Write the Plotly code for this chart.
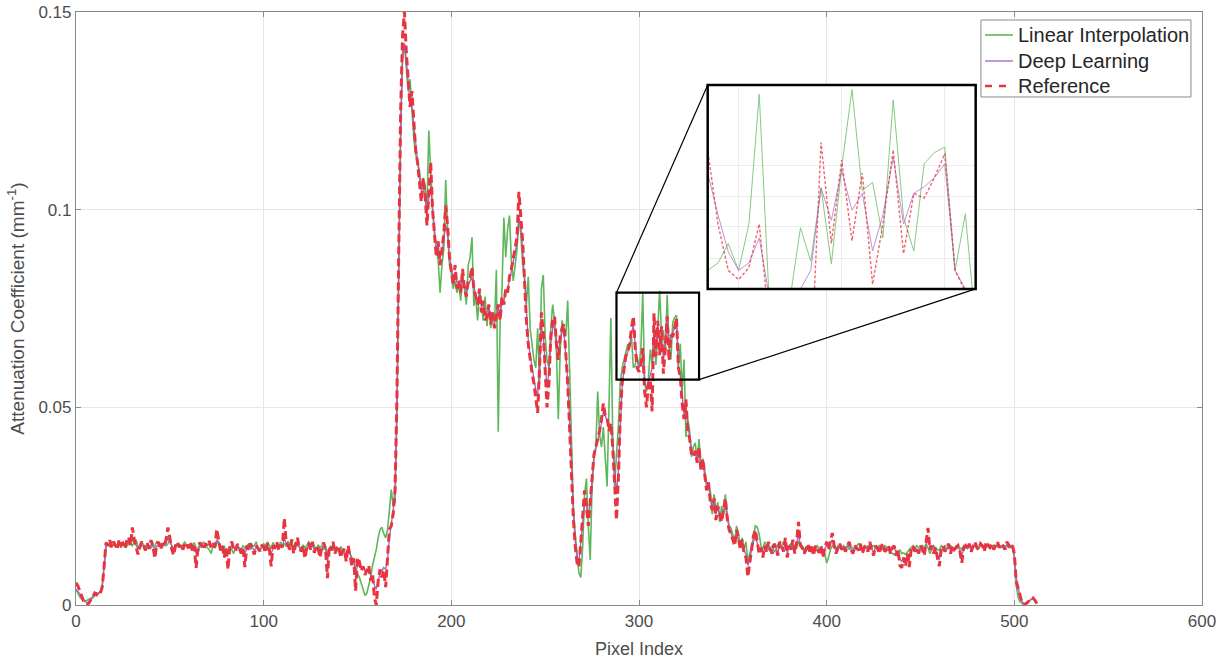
import numpy as np
import plotly.graph_objects as go

# values in units of 1e-4 mm^-1, one per pixel index (0..512)
VALUE_UNIT = 1e-4

reference_vals = [
    56, 48, 36, 22, 10, 3, 0, 6, 14, 22,
    30, 26, 34, 30, 46, 98, 158, 150, 164, 146,
    160, 150, 140, 166, 152, 156, 142, 162, 172, 150,
    196, 168, 150, 128, 146, 160, 150, 138, 156, 142,
    164, 150, 118, 152, 160, 140, 156, 148, 166, 196,
    170, 142, 126, 150, 160, 146, 154, 140, 158, 150,
    144, 160, 136, 150, 94, 146, 158, 150, 140, 156,
    150, 162, 144, 152, 146, 192, 160, 138, 150, 120,
    146, 90, 152, 160, 142, 136, 154, 148, 130, 144,
    96, 150, 138, 156, 142, 128, 150, 144, 136, 150,
    148, 132, 156, 142, 98, 150, 146, 160, 138, 152,
    146, 220, 158, 150, 140, 166, 130, 152, 170, 144,
    136, 150, 118, 146, 156, 140, 160, 132, 150, 144,
    120, 146, 158, 140, 68, 150, 138, 160, 130, 144,
    150, 120, 136, 142, 110, 150, 128, 100, 118, 36,
    120, 110, 86, 98, 76, 90, 100, 62, 80, 20,
    0, 60, 90, 70, 88, 45, 110, 192, 200, 230,
    290, 520, 900, 1250, 1440, 1500, 1400, 1330, 1260, 1300,
    1220, 1150, 1120, 1060, 1020, 1080, 1040, 960, 1050, 1120,
    1000, 940, 880, 920, 860, 900, 940, 1010, 960, 880,
    840, 810, 860, 800, 820, 790, 850, 800, 780, 820,
    830, 855, 800, 780, 760, 800, 740, 770, 720, 730,
    760, 710, 740, 700, 730, 760, 720, 780, 760, 800,
    790, 830, 850, 880, 900, 930, 1045, 990, 920, 820,
    720, 660, 620, 587, 560, 520, 486, 600, 740, 690,
    600, 500, 560, 680, 720, 730, 660, 620, 680, 700,
    710, 645, 560, 450, 330, 220, 150, 106, 96, 160,
    210, 290, 250, 200, 260, 330, 380, 400, 420, 440,
    470, 510, 480, 475, 440, 460, 400, 320, 215, 320,
    476, 560, 600, 630, 640, 660, 700, 730, 650, 600,
    590, 603, 650, 540, 500, 560, 570, 490, 738, 629,
    719, 632, 705, 585, 650, 730, 618, 683, 678, 700,
    726, 600, 577, 510, 470, 520, 440, 420, 380, 375,
    390, 360, 400, 340, 370, 330, 290, 310, 260, 240,
    270, 215, 250, 230, 210, 240, 270, 220, 190, 180,
    164, 150, 190, 170, 140, 165, 130, 120, 71, 110,
    150, 175, 190, 160, 130, 145, 120, 150, 135, 160,
    140, 130, 155, 145, 125, 160, 150, 135, 170, 120,
    150, 140, 165, 130, 160, 210, 150, 145, 130, 140,
    155, 135, 148, 125, 150, 140, 132, 150, 120, 145,
    160, 140, 165, 182, 150, 130, 145, 155, 140, 150,
    135, 148, 160, 140, 130, 150, 145, 138, 155, 130,
    145, 150, 135, 160, 140, 125, 150, 145, 130, 148,
    155, 135, 140, 150, 130, 145, 150, 125, 140, 100,
    94, 120, 98, 130, 96, 140, 150, 135, 145, 130,
    150, 140, 125, 160, 195, 140, 150, 130, 145, 120,
    98, 140, 150, 135, 145, 155, 130, 150, 140, 145,
    150, 135, 107, 145, 150, 140, 155, 135, 150, 160,
    145, 140, 155, 150, 135, 160, 150, 145, 155, 140,
    150, 160, 145, 155, 150, 140, 160, 150, 144, 150,
    130, 60, 40, 20, 8, 0, 2, 6, 12, 16,
    18, 12, 4,
]

deep_learning_vals = [
    40, 35, 28, 20, 12, 8, 6, 8, 12, 18,
    24, 28, 30, 34, 50, 100, 150, 152, 155, 150,
    152, 150, 148, 155, 152, 152, 150, 155, 160, 155,
    165, 160, 150, 142, 148, 152, 150, 145, 150, 146,
    152, 148, 140, 148, 152, 148, 150, 150, 158, 170,
    160, 148, 140, 146, 152, 150, 150, 146, 152, 150,
    148, 152, 145, 145, 130, 145, 152, 150, 146, 150,
    150, 155, 148, 150, 150, 165, 155, 145, 145, 138,
    142, 130, 145, 150, 145, 142, 148, 146, 140, 142,
    130, 142, 140, 148, 145, 138, 145, 144, 140, 145,
    145, 140, 148, 142, 130, 142, 145, 150, 142, 148,
    148, 170, 155, 150, 145, 152, 140, 148, 155, 146,
    140, 145, 135, 142, 150, 145, 150, 140, 145, 142,
    132, 142, 150, 140, 110, 138, 140, 148, 138, 140,
    142, 130, 135, 138, 125, 138, 130, 115, 110, 80,
    100, 105, 92, 95, 85, 88, 92, 75, 70, 50,
    40, 60, 80, 85, 95, 90, 115, 170, 200, 240,
    300, 500, 880, 1200, 1380, 1420, 1380, 1320, 1270, 1260,
    1210, 1160, 1120, 1080, 1050, 1060, 1030, 990, 1030, 1060,
    1000, 950, 900, 910, 880, 890, 920, 960, 940, 880,
    850, 830, 840, 815, 815, 800, 830, 805, 790, 810,
    820, 830, 805, 785, 770, 785, 755, 760, 735, 740,
    750, 725, 735, 715, 730, 750, 735, 770, 770, 795,
    800, 825, 845, 870, 890, 915, 980, 960, 900, 820,
    730, 670, 630, 600, 575, 545, 530, 600, 700, 680,
    610, 550, 590, 660, 700, 710, 670, 640, 670, 690,
    690, 640, 570, 470, 350, 240, 160, 120, 110, 160,
    210, 260, 250, 220, 260, 320, 370, 395, 415, 435,
    460, 490, 480, 465, 445, 450, 410, 350, 280, 340,
    470, 550, 595, 625, 640, 655, 690, 705, 660, 620,
    600, 608, 635, 570, 545, 565, 580, 600, 689, 654,
    708, 665, 683, 621, 660, 722, 650, 683, 690, 700,
    715, 600, 580, 520, 480, 505, 455, 425, 390, 380,
    385, 365, 385, 350, 360, 330, 300, 305, 270, 250,
    260, 230, 245, 232, 218, 235, 250, 222, 196, 182,
    168, 158, 175, 165, 148, 158, 138, 128, 100, 115,
    140, 160, 170, 158, 138, 145, 130, 145, 140, 152,
    142, 135, 150, 145, 132, 152, 148, 140, 158, 132,
    145, 142, 155, 138, 155, 180, 152, 145, 135, 140,
    150, 140, 145, 132, 145, 140, 136, 145, 130, 142,
    152, 145, 158, 165, 150, 138, 145, 150, 142, 148,
    140, 146, 152, 142, 136, 146, 144, 140, 150, 136,
    142, 146, 140, 152, 142, 132, 146, 144, 136, 145,
    150, 140, 142, 146, 135, 142, 146, 132, 138, 115,
    110, 118, 110, 125, 115, 135, 145, 138, 142, 135,
    145, 140, 132, 152, 170, 145, 148, 136, 142, 128,
    115, 135, 145, 138, 142, 150, 138, 146, 142, 144,
    146, 138, 125, 140, 146, 142, 150, 140, 148, 154,
    145, 142, 150, 148, 140, 152, 148, 146, 150, 143,
    148, 154, 146, 150, 148, 144, 152, 148, 145, 146,
    125, 70, 42, 22, 10, 4, 4, 8, 12, 15,
    16, 12, 5,
]

linear_interp_vals = [
    40, 30, 20, 15, 12, 10, 12, 15, 18, 20,
    22, 25, 28, 32, 48, 100, 150, 155, 148, 152,
    155, 148, 150, 158, 145, 160, 150, 148, 155, 158,
    150, 158, 165, 148, 140, 160, 152, 148, 155, 150,
    145, 152, 148, 160, 155, 150, 146, 158, 150, 155,
    165, 150, 142, 148, 155, 150, 145, 152, 160, 148,
    152, 145, 150, 158, 142, 130, 148, 152, 160, 150,
    145, 140, 130, 150, 145, 155, 160, 148, 140, 150,
    125, 135, 148, 140, 130, 145, 150, 138, 142, 150,
    145, 150, 155, 140, 148, 150, 160, 145, 138, 150,
    155, 148, 160, 150, 145, 158, 150, 152, 145, 160,
    150, 155, 148, 162, 150, 158, 145, 160, 150, 148,
    140, 152, 145, 150, 160, 155, 148, 150, 140, 152,
    145, 150, 140, 148, 130, 142, 150, 138, 145, 140,
    135, 148, 138, 130, 125, 140, 130, 120, 110, 90,
    80, 70, 55, 40, 24, 30, 50, 70, 100, 120,
    140, 170, 190, 197, 180, 170, 190, 240, 292, 250,
    260, 480, 860, 1200, 1400, 1420, 1360, 1300, 1330, 1250,
    1180, 1140, 1120, 1100, 1050, 1080, 1060, 1000, 1200, 1080,
    1000, 940, 900, 870, 790, 860, 900, 1075, 950, 860,
    840, 800, 820, 790, 810, 770, 840, 800, 760, 860,
    880, 930, 757, 780, 720, 800, 760, 720, 780, 705,
    760, 700, 740, 710, 848, 438, 720, 800, 980, 880,
    950, 985, 870, 820, 860, 900, 980, 940, 860, 830,
    760, 830, 700, 650, 620, 600, 700, 560, 800, 835,
    680, 620, 600, 700, 760, 720, 640, 470, 640, 720,
    700, 680, 770, 600, 420, 250, 180, 120, 80, 70,
    150, 280, 320, 200, 114, 300, 380, 400, 540, 430,
    400, 450, 380, 300, 500, 726, 430, 300, 380, 450,
    560, 600, 620, 640, 660, 650, 680, 600, 608, 629,
    600, 650, 790, 560, 540, 570, 646, 610, 689, 607,
    711, 795, 686, 695, 635, 784, 657, 621, 715, 727,
    733, 600, 661, 540, 621, 425, 470, 440, 375, 400,
    410, 360, 420, 350, 370, 340, 310, 300, 290, 230,
    280, 240, 260, 210, 250, 230, 280, 230, 200, 195,
    180, 160, 200, 180, 150, 170, 140, 160, 110, 130,
    150, 170, 200, 197, 180, 150, 140, 160, 150, 140,
    145, 150, 135, 140, 155, 145, 150, 160, 145, 140,
    150, 155, 140, 150, 145, 160, 155, 150, 140, 145,
    150, 145, 140, 135, 145, 150, 140, 148, 135, 130,
    106, 120, 140, 150, 145, 140, 150, 145, 140, 150,
    145, 150, 140, 148, 145, 140, 150, 155, 145, 140,
    150, 145, 150, 140, 148, 150, 145, 140, 150, 145,
    140, 150, 145, 140, 135, 130, 128, 125, 130, 140,
    130, 132, 128, 135, 140, 145, 150, 140, 150, 145,
    140, 150, 145, 155, 145, 130, 140, 150, 145, 140,
    138, 150, 145, 150, 140, 148, 150, 145, 140, 150,
    148, 145, 140, 150, 145, 148, 150, 140, 148, 152,
    150, 145, 152, 148, 150, 145, 155, 150, 148, 152,
    150, 148, 152, 145, 150, 148, 150, 145, 148, 152,
    120, 50, 20, 8, 4, 2, 4, 6, 10, 14,
    16, 10, 3,
]

series_names = ["Linear Interpolation", "Deep Learning", "Reference"]
x_tick_vals = [0, 100, 200, 300, 400, 500, 600]
y_tick_vals = [0, 0.05, 0.1, 0.15]
y_tick_text = ["0", "0.05", "0.1", "0.15"]

# zoom window (data coords) and inset view limits
zoom_x = [288, 332]
zoom_y = [0.057, 0.079]
inset_x_range = [297, 323]
inset_y_range = [0.058, 0.080]
inset_x_grid = [300, 310, 320]
inset_y_grid = [0.0613, 0.0647, 0.068, 0.0713]
inset_dom_x = [0.561, 0.799]
inset_dom_y = [0.533, 0.877]

X_RANGE = [0, 600]
Y_RANGE = [0, 0.15]

GREEN = "#5cb85a"
PURPLE = "#a35fc8"
RED = "#e8343f"

series = [
    (series_names[0], linear_interp_vals, GREEN, 1.6, "solid", 1.0, "solid"),
    (series_names[1], deep_learning_vals, PURPLE, 1.3, "solid", 0.9, "solid"),
    (series_names[2], reference_vals, RED, 3.0, "8px,4px", 1.4, "3px,2px"),
]

fig = go.Figure()
for name, vals, color, w, dash, w_in, dash_in in series:
    y = np.array(vals, dtype=float) * VALUE_UNIT
    x = np.arange(len(y))
    fig.add_trace(go.Scatter(x=x, y=y, mode="lines", name=name, showlegend=False,
                             line=dict(color=color, width=w, dash=dash),
                             xaxis="x", yaxis="y"))
for name, vals, color, w, dash, w_in, dash_in in series:
    y = np.array(vals, dtype=float) * VALUE_UNIT
    x = np.arange(len(y))
    fig.add_trace(go.Scatter(x=x, y=y, mode="lines", name=name, showlegend=False,
                             opacity=0.75,
                             line=dict(color=color, width=w_in, dash=dash_in),
                             xaxis="x2", yaxis="y2"))

FONT = "Arial, Liberation Sans, Helvetica, sans-serif"
AX_COLOR = "#8a8a8a"
GRID = "#e6e6e6"
TICK_FONT = dict(family=FONT, size=17, color="#4d4d4d")


def frac_to_data_x(d):
    return X_RANGE[0] + d * (X_RANGE[1] - X_RANGE[0])


def frac_to_data_y(d):
    return Y_RANGE[0] + d * (Y_RANGE[1] - Y_RANGE[0])


shapes = [
    dict(type="rect", xref="x", yref="y", x0=zoom_x[0], x1=zoom_x[1],
         y0=zoom_y[0], y1=zoom_y[1], line=dict(color="black", width=2.2)),
    dict(type="rect", xref="paper", yref="paper", x0=inset_dom_x[0], x1=inset_dom_x[1],
         y0=inset_dom_y[0], y1=inset_dom_y[1], line=dict(color="black", width=2.5)),
    dict(type="line", xref="x", yref="y", x0=zoom_x[0], y0=zoom_y[1],
         x1=frac_to_data_x(inset_dom_x[0]), y1=frac_to_data_y(inset_dom_y[1]),
         line=dict(color="black", width=1.2)),
    dict(type="line", xref="x", yref="y", x0=zoom_x[1], y0=zoom_y[0],
         x1=frac_to_data_x(inset_dom_x[1]), y1=frac_to_data_y(inset_dom_y[0]),
         line=dict(color="black", width=1.2)),
]

# hand-built legend box (paper coordinates), MATLAB style
LEG_BOX = dict(x0=0.8037, x1=0.9902, y0=0.8567, y1=0.9865)
LEG_LINE_X = [0.8073, 0.8321]
LEG_TEXT_X = 0.8348
LEG_ROWS_Y = [0.9612, 0.9174, 0.8752]

shapes.append(dict(type="rect", xref="paper", yref="paper", **LEG_BOX,
                   fillcolor="white", line=dict(color="#8a8a8a", width=1)))
annotations = []
for (name, vals, color, w, dash, w_in, dash_in), ry in zip(series, LEG_ROWS_Y):
    shapes.append(dict(type="line", xref="paper", yref="paper",
                       x0=LEG_LINE_X[0], x1=LEG_LINE_X[1], y0=ry, y1=ry,
                       line=dict(color=color, width=w if w < 2 else 2.6,
                                 dash="solid" if dash == "solid" else "7px,7px")))
    annotations.append(dict(xref="paper", yref="paper", x=LEG_TEXT_X, y=ry,
                            xanchor="left", yanchor="middle", showarrow=False,
                            text=name, font=dict(family=FONT, size=20, color="#262626")))

fig.update_layout(
    width=1226, height=662,
    margin=dict(l=76, r=24, t=12, b=57),
    paper_bgcolor="white", plot_bgcolor="white",
    font=dict(family=FONT, size=17, color="#333333"),
    showlegend=False,
    xaxis=dict(range=X_RANGE, tickvals=x_tick_vals, showgrid=True, gridcolor=GRID,
               zeroline=False, showline=True, mirror="ticks", linecolor=AX_COLOR,
               linewidth=1.2, ticks="inside", ticklen=5, tickcolor=AX_COLOR,
               tickfont=TICK_FONT, automargin=False,
               title=dict(text="Pixel Index", font=dict(family=FONT, size=18, color="#4d4d4d"),
                          standoff=12),
               domain=[0, 1], anchor="y"),
    yaxis=dict(range=Y_RANGE, tickvals=y_tick_vals, ticktext=y_tick_text, showgrid=True,
               gridcolor=GRID, zeroline=False, showline=True, mirror="ticks",
               linecolor=AX_COLOR, linewidth=1.2, ticks="inside", ticklen=5,
               tickcolor=AX_COLOR, tickfont=TICK_FONT, automargin=False,
               title=dict(text="Attenuation Coefficient (mm<sup>-1</sup>)",
                          font=dict(family=FONT, size=19, color="#4d4d4d"), standoff=8),
               domain=[0, 1], anchor="x"),
    xaxis2=dict(range=inset_x_range, domain=inset_dom_x, anchor="y2",
                tickvals=inset_x_grid, showticklabels=False, showgrid=True,
                gridcolor="#ececec", zeroline=False, showline=False, ticks=""),
    yaxis2=dict(range=inset_y_range, domain=inset_dom_y, anchor="x2",
                tickvals=inset_y_grid, showticklabels=False, showgrid=True,
                gridcolor="#ececec", zeroline=False, showline=False, ticks=""),
    shapes=shapes,
    annotations=annotations,
)

fig.write_html("out.html")
